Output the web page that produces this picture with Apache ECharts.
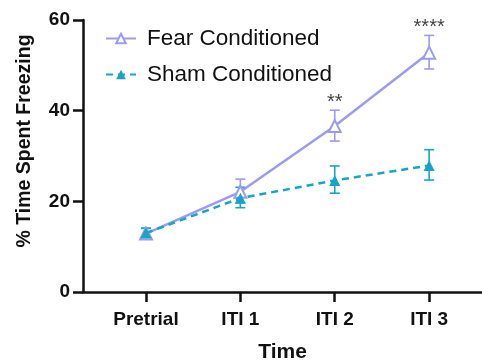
<!DOCTYPE html>
<html>
<head>
<meta charset="utf-8">
<script src="https://cdn.jsdelivr.net/npm/echarts@6/dist/echarts.min.js"></script>
<style>
  html, body { margin: 0; padding: 0; background: #fff; }
  #chart { width: 482px; height: 361px; }
</style>
</head>
<body>
<div id="chart"></div>
<script>
const categories = ['Pretrial', 'ITI 1', 'ITI 2', 'ITI 3']
const fearMean = [12.9, 22.1, 36.6, 52.8]
const fearLow = [11.9, 19.6, 33.3, 49.2]
const fearHigh = [14.0, 24.9, 40.1, 56.6]
const shamMean = [13.0, 20.7, 24.6, 27.9]
const shamLow = [12.0, 18.6, 21.8, 24.7]
const shamHigh = [14.1, 23.1, 27.8, 31.4]
const sigMarks = ['', '', '**', '****']
const yTicks = [0, 20, 40, 60]

const FEAR = '#9b9bf3'
const SHAM = '#17a5c6'
const FONT = 'Liberation Sans, Arial, sans-serif'

const idx = categories.map((_, i) => i)

function errorBars(low, high, color) {
  return {
    type: 'custom',
    silent: true,
    z: 1,
    data: idx.map(i => [i, low[i], high[i]]),
    renderItem(params, api) {
      const x = api.value(0)
      const lo = api.coord([x, api.value(1)])
      const hi = api.coord([x, api.value(2)])
      const w = 5
      const style = { stroke: color, lineWidth: 1.6 }
      return {
        type: 'group',
        children: [
          { type: 'line', shape: { x1: lo[0], y1: lo[1], x2: hi[0], y2: hi[1] }, style },
          { type: 'line', shape: { x1: lo[0] - w, y1: lo[1], x2: lo[0] + w, y2: lo[1] }, style },
          { type: 'line', shape: { x1: hi[0] - w, y1: hi[1], x2: hi[0] + w, y2: hi[1] }, style }
        ]
      }
    }
  }
}

const chart = echarts.init(document.getElementById('chart'))

chart.setOption({
  animation: false,
  textStyle: { fontFamily: FONT },
  grid: { left: 83, right: 0, top: 20, bottom: 69, outerBoundsMode: 'none', containLabel: false },
  legend: {
    left: 100,
    top: 22,
    orient: 'vertical',
    itemWidth: 30,
    itemHeight: 12,
    itemGap: 13,
    data: ['Fear Conditioned', 'Sham Conditioned'],
    textStyle: { fontSize: 22.5, color: '#111', fontFamily: FONT, padding: [0, 0, 0, 6] }
  },
  xAxis: {
    type: 'value',
    min: -0.667,
    max: 3.56,
    name: 'Time',
    nameLocation: 'middle',
    nameGap: 50,
    nameTextStyle: { fontSize: 21, fontWeight: 'bold', color: '#111', fontFamily: FONT },
    axisLine: { show: true, onZero: false, lineStyle: { color: '#111', width: 2.5 } },
    axisTick: { show: true, length: 10, customValues: idx, lineStyle: { color: '#111', width: 2.5 } },
    axisLabel: {
      customValues: idx,
      margin: 18,
      fontSize: 19,
      fontWeight: 'bold',
      color: '#111',
      formatter: v => categories[Math.round(v)]
    },
    splitLine: { show: false }
  },
  yAxis: {
    type: 'value',
    min: 0,
    max: 60,
    interval: 20,
    name: '% Time Spent Freezing',
    nameLocation: 'middle',
    nameGap: 48,
    nameTextStyle: { fontSize: 19.5, fontWeight: 'bold', color: '#111', fontFamily: FONT, padding: [0, 0, 0, 30] },
    axisLine: { show: true, onZero: false, lineStyle: { color: '#111', width: 2.5 } },
    axisTick: { show: true, length: 10, lineStyle: { color: '#111', width: 2.5 } },
    axisLabel: {
      margin: 13,
      fontSize: 19,
      fontWeight: 'bold',
      color: '#111',
      formatter: v => (yTicks.includes(v) ? String(v) : '')
    },
    splitLine: { show: false }
  },
  series: [
    errorBars(fearLow, fearHigh, FEAR),
    {
      name: 'Fear Conditioned',
      type: 'line',
      z: 3,
      data: idx.map(i => [i, fearMean[i]]),
      symbol: 'emptyTriangle',
      symbolSize: 12,
      color: FEAR,
      lineStyle: { color: FEAR, width: 2.5 },
      itemStyle: { color: FEAR, borderWidth: 1.5 }
    },
    errorBars(shamLow, shamHigh, SHAM),
    {
      name: 'Sham Conditioned',
      type: 'line',
      z: 4,
      data: idx.map(i => [i, shamMean[i]]),
      symbol: 'triangle',
      symbolSize: 11,
      color: SHAM,
      lineStyle: { color: SHAM, width: 2.5, type: [7, 5] },
      itemStyle: { color: SHAM }
    },
    {
      type: 'scatter',
      silent: true,
      symbolSize: 0,
      data: idx.map(i => [i, fearHigh[i]]),
      label: {
        show: true,
        position: 'top',
        distance: -2,
        fontSize: 20,
        color: '#111',
        formatter: p => sigMarks[p.dataIndex]
      }
    }
  ]
})
</script>
</body>
</html>
